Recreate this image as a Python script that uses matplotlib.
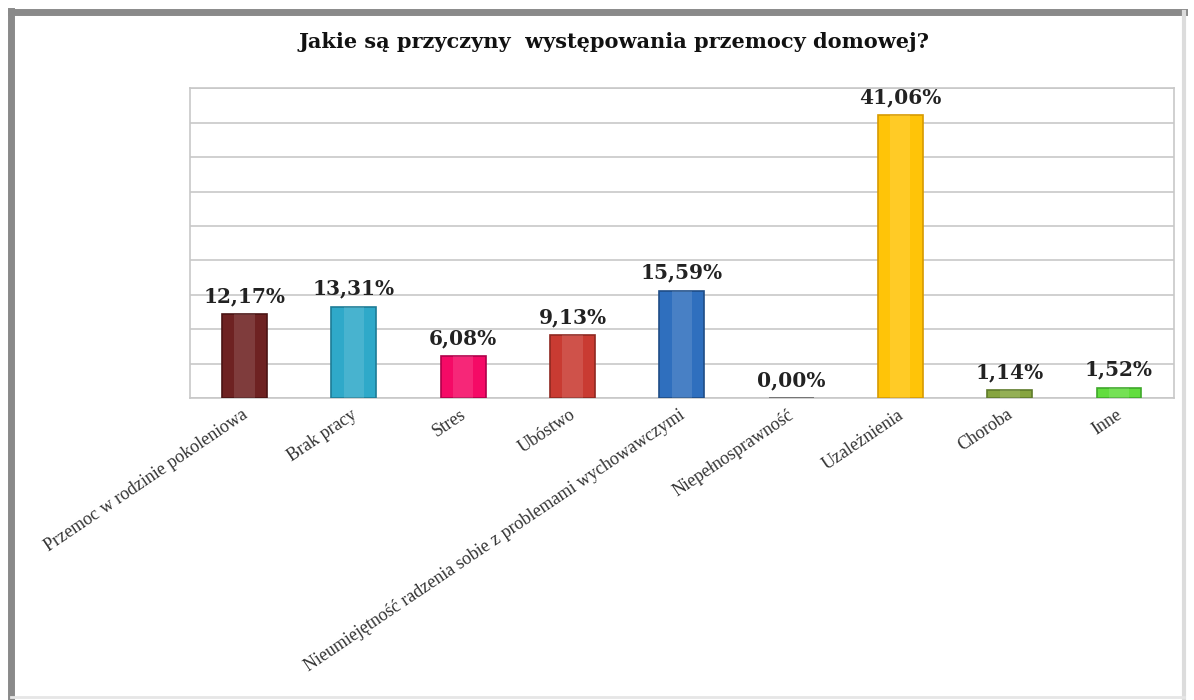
import numpy as np
import matplotlib.pyplot as plt
import matplotlib.transforms as mtransforms
from matplotlib.lines import Line2D

# Data
categories = ['Przemoc w rodzinie pokoleniowa', 'Brak pracy', 'Stres', 'Ubóstwo',
              'Nieumiejętność radzenia sobie z problemami wychowawczymi',
              'Niepełnosprawność', 'Uzależnienia', 'Choroba', 'Inne']
values = [12.17, 13.31, 6.08, 9.13, 15.59, 0.00, 41.06, 1.14, 1.52]
labels = ['12,17%', '13,31%', '6,08%', '9,13%', '15,59%', '0,00%', '41,06%', '1,14%', '1,52%']
colors = ['#6e2222', '#2fa9c9', '#f50a66', '#c93b32', '#2f6fbe',
          '#999999', '#ffc408', '#86a43f', '#62dd3e']
edges = ['#4a1414', '#1d7c96', '#b0004a', '#8f2820', '#1f4d86',
         '#666666', '#d79a00', '#5e7a2a', '#3ea82a']

plt.rcParams['font.family'] = ['Liberation Serif', 'DejaVu Serif']

fig = plt.figure(figsize=(11.94, 7), dpi=100)
ax = fig.add_axes([0.159, 0.431, 0.824, 0.443])

x = np.arange(len(categories))
bars = ax.bar(x, values, width=0.41, color=colors, edgecolor=edges, linewidth=1.2, zorder=3)

# light highlight down the middle of each bar for the glossy look
for b in bars:
    if b.get_height() > 0:
        ax.bar(b.get_x() + b.get_width() / 2, b.get_height(), width=0.41 * 0.45,
               color='white', alpha=0.12, zorder=4)

for xi, v, lab in zip(x, values, labels):
    ax.annotate(lab, (xi, v), xytext=(0, 6), textcoords='offset points',
                ha='center', va='bottom', fontsize=14.5, fontweight='bold',
                color='#222222', family='DejaVu Serif')

ax.set_xlim(-0.5, len(categories) - 0.5)
ax.set_ylim(0, 45)
ax.set_yticks(np.arange(0, 46, 5))
ax.set_yticklabels([])
ax.grid(axis='y', color='#c8c8c8', linewidth=1.2, zorder=0)
ax.tick_params(axis='both', length=0)
for s in ax.spines.values():
    s.set_color('#c8c8c8')
    s.set_linewidth(1.2)

ax.set_xticks(x)
ax.set_xticklabels(categories, rotation=34, ha='right', fontsize=13, color='#333333')
shift = mtransforms.ScaledTranslation(6 / 100, -3 / 100, fig.dpi_scale_trans)
for t in ax.get_xticklabels():
    t.set_transform(t.get_transform() + shift)

fig.text(0.514, 0.94, 'Jakie są przyczyny  występowania przemocy domowej?',
         ha='center', va='center', fontsize=15, fontweight='bold', color='#111111',
         family='DejaVu Serif')

# outer frame
fig.add_artist(Line2D([0.009, 0.009], [0.0, 0.985], color='#8a8a8a', linewidth=5,
                      transform=fig.transFigure))
fig.add_artist(Line2D([0.009, 0.992], [0.983, 0.983], color='#8a8a8a', linewidth=5,
                      transform=fig.transFigure))
fig.add_artist(Line2D([0.992, 0.992], [0.0, 0.983], color='#dcdcdc', linewidth=3,
                      transform=fig.transFigure))
fig.add_artist(Line2D([0.009, 0.992], [0.004, 0.004], color='#e6e6e6', linewidth=2,
                      transform=fig.transFigure))

fig.savefig('out.png', dpi=100)
